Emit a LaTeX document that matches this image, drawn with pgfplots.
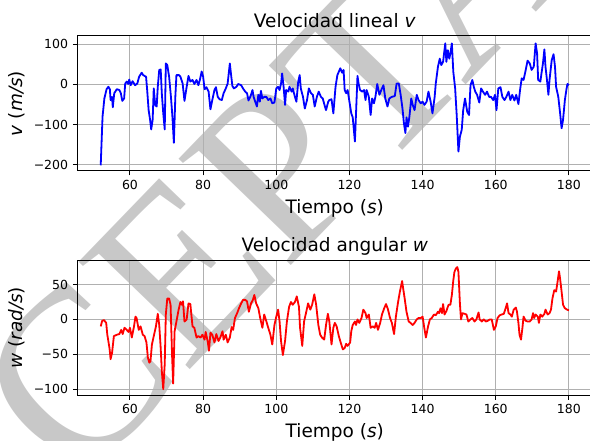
\documentclass[border=0pt]{standalone}
\usepackage{pgfplots}
\pgfplotsset{compat=1.18}
\usepackage{fontspec}
\setmainfont{DejaVu Sans}
\newfontfamily\wmfont{Liberation Serif}
\definecolor{wmgray}{RGB}{200,200,200}
\definecolor{gridgray}{RGB}{176,176,176}

\pgfplotsset{
  mpl/.style={
    scale only axis, width=370.8pt, height=97.2pt,
    xmin=45.6, xmax=186.4,
    axis line style={line width=0.72pt},
    tick style={line width=0.72pt, black},
    major tick length=3.1pt,
    tick align=outside, tick pos=left,
    grid=major, major grid style={gridgray, line width=0.72pt},
    xtick={60,80,...,180},
    ticklabel style={font=\fontsize{9}{9}\selectfont},
    /pgf/number format/assume math mode=true,
    every axis title/.style={at={(0.5,1)}, anchor=base, yshift=6.3pt, font=\fontsize{13.3}{13.3}\selectfont},
    every axis x label/.style={at={(0.5,0)}, anchor=base, yshift=-30.5pt, font=\fontsize{13.3}{13.3}\selectfont},
    every axis y label/.style={at={(0,0.5)}, xshift=-43.4pt, rotate=90, anchor=center, font=\fontsize{13.3}{13.3}\selectfont},
    xlabel={Tiempo (\textit{s})},
  },
  trace/.style={line width=1.3pt, line join=round, mark=none},
}

\begin{document}
\begin{tikzpicture}
% diagonal stamp behind the plots
\node[rotate=46, text=wmgray, inner sep=0pt,
      font=\wmfont\fontsize{170}{170}\selectfont] at (240pt,-80pt) {ACEPTADO};

% linear velocity
\begin{axis}[mpl, at={(55.66pt,-25.92pt)}, anchor=north west,
  ymin=-215.25, ymax=120.25,
  ytick={-200,-100,0,100}, yticklabels={−200,−100,0,100},
  title={Velocidad lineal \textit{v}},
  ylabel={\textit{v} (\textit{m/s})}]
\addplot[trace, blue] coordinates {
(52,-201) (52.5,-80) (53,-35) (53.6,-12) (54.1,-6) (54.5,-12) (54.7,-39) (55.1,-31) (55.3,-57) (55.7,-22)
(56.4,-12) (57.1,-14) (57.5,-22) (57.9,-41) (58.4,-35) (58.7,2) (59.1,7) (59.5,1) (59.8,12) (60.2,-2)
(60.7,8) (61.4,-2) (62,2) (62.5,19) (63.2,29) (63.6,23) (64.4,19) (64.7,-14) (65.1,-64) (65.5,-88)
(65.8,-112) (66.2,-88) (66.5,-10) (66.9,-51) (67.3,-55) (67.6,-6) (68,36) (68.4,37) (68.7,-22) (69.1,-72)
(69.5,-112) (69.8,52) (70.2,48) (70.7,19) (71.2,-31) (71.6,-80) (72,-145) (72.4,-31) (72.7,23) (73.4,23)
(73.8,19) (74.4,2) (74.9,-41) (75.5,-6) (76,21) (76.5,7) (77.1,11) (77.6,1) (78.2,11) (78.7,-2)
(79.1,11) (79.6,32) (80,19) (80.4,-12) (80.9,-7) (81.5,-18) (82,-62) (82.5,-39) (83.1,-14) (83.5,-7)
(84,-31) (84.5,-37) (85.1,-39) (85.6,-22) (86.2,-10) (86.7,2) (87.3,52) (87.6,27) (88,-4) (88.4,-10)
(89.1,-6) (89.6,1) (90.4,-2) (90.9,-10) (91.5,-18) (92,-22) (92.4,-40) (92.9,-31) (93.5,-14) (93.8,-31)
(94.4,-47) (94.7,-55) (95.1,-26) (95.5,-43) (95.8,-16) (96.2,-35) (96.7,-31) (97.3,-31) (97.8,-39) (98.4,-35)
(98.9,-47) (99.5,-45) (100,-10) (100.5,-6) (100.9,-14) (101.3,2) (101.6,27) (102,-6) (102.4,-51) (102.7,-14)
(103.3,-18) (103.6,-6) (104.2,-18) (104.5,-10) (105.1,-31) (105.5,-43) (106,7) (106.4,23) (106.7,-10) (107.3,-31)
(107.8,-60) (108.4,-39) (108.9,-10) (109.5,-22) (110,-26) (110.5,-55) (111.1,-31) (111.6,-18) (112.2,-31) (112.7,-35)
(113.3,-55) (113.6,-64) (114.2,-43) (114.5,-39) (115.1,-37) (115.6,-72) (116.2,-6) (116.7,23) (117.5,40) (118,29)
(118.4,36) (118.7,-14) (119.1,-22) (119.5,-14) (120,-43) (120.5,-72) (120.9,-82) (121.5,-142) (121.8,-72) (122.2,21)
(122.5,2) (122.9,-14) (123.5,-18) (124,-14) (124.4,-39) (124.7,-14) (125.3,-31) (125.8,-76) (126.2,-35) (126.7,-47)
(127.1,-31) (127.6,1) (128.2,-26) (128.7,-14) (129.3,-2) (129.8,-35) (130.4,-55) (130.9,-35) (131.6,-31) (132.4,-29)
(132.9,2) (133.5,2) (134,-26) (134.5,-60) (134.9,-97) (135.3,-121) (135.6,-82) (136,-105) (136.4,-80) (136.9,-35)
(137.3,-51) (137.8,-64) (138.4,-26) (138.9,-39) (139.5,-47) (140,-43) (140.5,-51) (141.1,-43) (141.6,-18) (142.2,-43)
(142.7,-72) (143.3,-31) (143.6,2) (144.2,44) (144.7,64) (145.1,48) (145.6,56) (146.2,102) (146.5,56) (146.9,85)
(147.3,64) (147.6,77) (148,102) (148.4,31) (148.9,-10) (149.3,-72) (149.8,-167) (150.2,-130) (150.7,-113) (151.1,-64)
(151.6,-35) (152.2,-68) (152.7,-76) (153.1,-2) (153.6,11) (154,-6) (154.4,-18) (154.9,-26) (155.5,-45) (156,-10)
(156.5,-18) (157.1,-26) (157.6,-18) (158.2,-31) (158.7,-31) (159.3,-39) (159.8,-26) (160.2,-64) (160.7,-10) (161.3,-7)
(161.8,-31) (162.4,-39) (162.9,-31) (163.5,-18) (164,-39) (164.5,-26) (165.1,-40) (165.6,-26) (166.2,-49) (166.7,-10)
(167.1,15) (167.6,11) (168.2,36) (168.7,59) (169.3,52) (169.8,36) (170.4,44) (170.9,102) (171.3,77) (171.6,11)
(172.2,7) (172.5,27) (172.9,52) (173.3,87) (173.6,44) (174,11) (174.4,-26) (174.7,11) (175.3,60) (175.8,75)
(176.2,44) (176.5,-6) (177.1,-31) (177.6,-72) (178,-109) (178.4,-88) (178.9,-39) (179.3,-14) (179.6,1) (180,-2)
};
\end{axis}

% angular velocity
\begin{axis}[mpl, at={(55.66pt,-187.4pt)}, anchor=north west,
  ymin=-108.8, ymax=84.8,
  ytick={-100,-50,0,50}, yticklabels={−100,−50,0,50},
  title={Velocidad angular \textit{w}},
  ylabel={\textit{w} (\textit{rad/s})}]
\addplot[trace, red] coordinates {
(52,-10) (52.4,-2) (52.9,-1) (53.5,-5) (53.8,-22) (54.4,-41) (54.7,-57) (55.1,-48) (55.6,-24) (56.4,-22)
(57.1,-21) (57.6,-15) (58,-21) (58.5,-12) (59.1,-15) (59.6,-18) (60,-12) (60.5,-26) (61.1,-10) (61.5,4)
(61.8,2) (62.4,-15) (62.9,-10) (63.5,-22) (64,-24) (64.5,-33) (64.9,-55) (65.3,-62) (65.6,-60) (66,-36)
(66.5,-24) (67.1,-10) (67.6,8) (68,-8) (68.4,-41) (68.7,-74) (69.1,-100) (69.5,-64) (69.8,7) (70.2,30)
(70.7,30) (71.1,21) (71.5,-50) (71.8,-92) (72.2,-17) (72.7,-3) (73.3,14) (73.8,25) (74.2,21) (74.5,26)
(74.9,-3) (75.5,0) (76,23) (76.5,22) (77.1,-10) (77.6,-12) (78.2,-26) (78.7,-24) (79.3,-26) (79.8,-22)
(80.4,-29) (80.7,-18) (81.3,-33) (81.6,-45) (82,-19) (82.5,-22) (83.1,-33) (83.6,-21) (84.2,-31) (84.7,-26)
(85.3,-17) (85.6,-29) (86.2,-22) (86.7,-33) (87.3,-26) (87.8,-11) (88.2,-15) (88.7,2) (89.3,9) (89.8,16)
(90.4,23) (90.9,28) (91.5,28) (92,26) (92.5,11) (93.1,23) (93.6,28) (94,35) (94.5,23) (95.1,16)
(95.6,2) (96.2,-12) (96.7,7) (97.3,-3) (97.8,-12) (98.4,-22) (98.9,-36) (99.5,-8) (100,4) (100.5,14)
(100.9,-3) (101.3,-31) (101.8,-51) (102.4,-31) (102.9,-3) (103.5,18) (104,25) (104.5,21) (105.1,25) (105.6,33)
(106.2,18) (106.5,-12) (107.1,-38) (107.6,-3) (108.2,11) (108.7,23) (109.3,14) (109.8,21) (110.4,36) (110.9,21)
(111.5,-8) (112,-22) (112.5,-26) (113.1,-29) (113.6,-8) (114.1,8) (114.5,-3) (115.1,-36) (115.6,-12) (116,-5)
(116.5,-10) (117.1,-24) (117.6,-33) (118.2,-43) (118.7,-41) (119.1,-35) (119.5,-38) (120.2,-33) (120.5,-17) (120.9,-8)
(121.5,-3) (121.8,-8) (122.2,0) (122.7,-5) (123.3,2) (123.8,14) (124.4,9) (124.7,2) (125.3,7) (125.8,-12)
(126.4,-10) (126.9,-12) (127.3,-5) (127.8,-15) (128.4,-5) (128.9,7) (129.5,16) (130,22) (130.5,15) (131.1,2)
(131.6,-5) (132.2,-21) (132.7,4) (133.3,25) (133.8,40) (134.4,55) (134.7,44) (135.1,30) (135.6,11) (136.2,-3)
(136.7,-5) (137.3,-8) (137.8,-5) (138.4,0) (138.9,2) (139.5,2) (140,4) (140.4,-10) (140.9,-26) (141.5,-10)
(142,0) (142.5,2) (143.1,7) (143.6,6) (144.2,11) (144.5,9) (144.9,16) (145.3,9) (145.6,22) (146,7)
(146.5,12) (147.1,21) (147.6,21) (148,35) (148.4,56) (148.7,68) (149.1,73) (149.5,75) (149.8,68) (150.2,23)
(150.5,0) (150.9,9) (151.5,8) (152,7) (152.5,-3) (153.1,0) (153.6,2) (154.2,-3) (154.7,0) (155.3,10)
(155.6,0) (156.2,-3) (156.7,0) (157.3,-3) (157.8,-2) (158.4,0) (158.9,0) (159.5,-15) (160,-10) (160.5,2)
(161.1,6) (161.6,7) (162.2,8) (162.7,16) (163.1,23) (163.5,9) (164,7) (164.4,4) (164.9,14) (165.5,17)
(165.8,11) (166.2,-5) (166.5,-22) (166.9,-29) (167.3,-12) (167.6,4) (168.2,-2) (168.7,-3) (169.3,-3) (169.8,0)
(170.2,9) (170.5,2) (170.9,7) (171.5,4) (171.8,-5) (172.2,7) (172.7,4) (173.3,8) (173.6,14) (174.2,7)
(174.7,9) (175.1,14) (175.5,30) (176,42) (176.5,40) (176.9,54) (177.3,69) (177.6,58) (178,40) (178.4,21)
(178.9,16) (179.5,14) (180,13)
};
\end{axis}

\pgfresetboundingbox
\path[use as bounding box] (0pt,0pt) rectangle (424.8pt,-317.52pt);
\end{tikzpicture}
\end{document}
